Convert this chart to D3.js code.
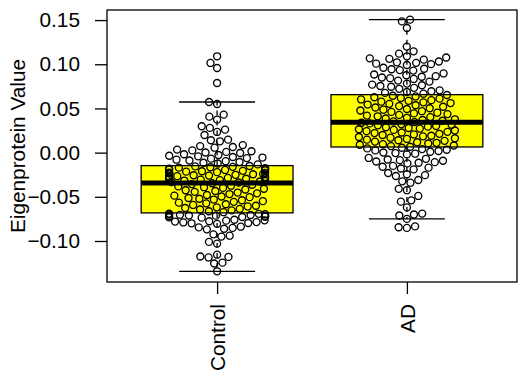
<!DOCTYPE html>
<html>
<head>
<meta charset="utf-8">
<script src="https://cdn.jsdelivr.net/npm/d3@7"></script>
<style>
  html, body { margin: 0; padding: 0; background: #fff; }
  svg { display: block; }
  text { font-family: "Liberation Sans", Arial, Helvetica, sans-serif; fill: #000; }
</style>
</head>
<body>
<svg id="chart" width="523" height="381"></svg>
<script>
// ---------- data ----------
const categories = ["Control", "AD"];
const yTicks = [-0.10, -0.05, 0.00, 0.05, 0.10, 0.15];
const yLabel = "Eigenprotein Value";

// box statistics
const whiskerLow  = [-0.1343, -0.0750];
const quartile1   = [-0.0682,  0.0064];
const medians     = [-0.0343,  0.0343];
const quartile3   = [-0.0147,  0.0656];
const whiskerHigh = [ 0.0573,  0.1505];

// individual samples (estimated from the swarm)
const controlValues = [
  0.1090, 0.1015, 0.0958, 0.0788, 0.0573, 0.0550, 0.0430, 0.0407, 0.0373, 0.0298,
  0.0280, 0.0260, 0.0234, 0.0200,
  0.0147, 0.0140, 0.0128,
  0.0085, 0.0074, 0.0064, 0.0056,
  0.0034, 0.0025, 0.0016, 0.0008, 0.0002, -0.0004,
  -0.0018, -0.0027, -0.0035, -0.0042, -0.0049, -0.0056, -0.0062, -0.0068,
  -0.0080, -0.0089, -0.0097, -0.0106, -0.0114, -0.0123, -0.0133,
  -0.0151, -0.0156, -0.0161, -0.0166, -0.0170, -0.0176, -0.0181, -0.0185, -0.0191, -0.0196,
  -0.0200, -0.0206, -0.0211, -0.0215, -0.0221, -0.0226, -0.0230, -0.0236, -0.0241, -0.0245,
  -0.0251, -0.0256, -0.0260, -0.0266, -0.0271, -0.0275, -0.0281, -0.0286, -0.0290, -0.0296,
  -0.0301, -0.0305, -0.0311, -0.0316, -0.0321, -0.0327, -0.0332, -0.0338,
  -0.0347, -0.0356, -0.0364, -0.0374, -0.0382, -0.0391, -0.0399, -0.0409, -0.0417, -0.0426,
  -0.0434, -0.0444, -0.0452, -0.0461, -0.0469, -0.0479, -0.0487, -0.0496, -0.0504, -0.0514,
  -0.0522, -0.0531, -0.0539, -0.0549, -0.0557, -0.0566, -0.0574, -0.0584, -0.0592, -0.0601,
  -0.0609, -0.0619, -0.0627, -0.0636, -0.0644, -0.0654, -0.0663, -0.0674,
  -0.0690, -0.0693, -0.0697, -0.0700, -0.0704, -0.0706, -0.0711, -0.0713, -0.0718, -0.0720,
  -0.0725, -0.0728, -0.0733, -0.0736,
  -0.0760, -0.0766, -0.0770, -0.0776, -0.0780, -0.0786, -0.0790, -0.0796, -0.0800, -0.0806,
  -0.0838, -0.0846, -0.0852, -0.0861, -0.0868,
  -0.0925, -0.0940, -0.0950,
  -0.1010, -0.1030,
  -0.1155, -0.1175, -0.1180, -0.1186, -0.1245, -0.1255, -0.1343
];

const adValues = [
  0.1505, 0.1485, 0.1410, 0.1200, 0.1146, 0.1120,
  0.1090, 0.1076, 0.1067, 0.1061, 0.1052,
  0.1031, 0.1022, 0.1016, 0.1007, 0.1001, 0.0992,
  0.0961, 0.0949, 0.0943, 0.0934, 0.0928,
  0.0896, 0.0884, 0.0876, 0.0865, 0.0859, 0.0850, 0.0843, 0.0834,
  0.0815, 0.0804,
  0.0781, 0.0769, 0.0763, 0.0754, 0.0745, 0.0733, 0.0722,
  0.0705, 0.0695, 0.0686, 0.0676, 0.0667,
  0.0652, 0.0644, 0.0636, 0.0627, 0.0619, 0.0611, 0.0602, 0.0594, 0.0586, 0.0577,
  0.0569, 0.0561, 0.0552, 0.0544, 0.0536, 0.0527, 0.0519, 0.0511, 0.0502, 0.0494,
  0.0486, 0.0477, 0.0469, 0.0461, 0.0452, 0.0444, 0.0436, 0.0427, 0.0419, 0.0411,
  0.0402, 0.0394, 0.0386, 0.0377, 0.0369, 0.0361, 0.0353, 0.0346,
  0.0338, 0.0331, 0.0323, 0.0316, 0.0309, 0.0301, 0.0294, 0.0287, 0.0279, 0.0272,
  0.0265, 0.0257, 0.0250, 0.0243, 0.0235, 0.0228, 0.0221, 0.0213, 0.0206, 0.0199,
  0.0191, 0.0184, 0.0177, 0.0169, 0.0162, 0.0155, 0.0147, 0.0140, 0.0133, 0.0125,
  0.0118, 0.0111, 0.0103, 0.0096, 0.0089, 0.0081, 0.0074, 0.0067,
  0.0055, 0.0048, 0.0040, 0.0032, 0.0025, 0.0018, 0.0010, 0.0002, -0.0005, -0.0012, -0.0020,
  -0.0060, -0.0070, -0.0078, -0.0085, -0.0092, -0.0100, -0.0108, -0.0115, -0.0122,
  -0.0150, -0.0160, -0.0170, -0.0180, -0.0190,
  -0.0230, -0.0245, -0.0255, -0.0265,
  -0.0310, -0.0325, -0.0340,
  -0.0410, -0.0425,
  -0.0490, -0.0540, -0.0555, -0.0620,
  -0.0690, -0.0700, -0.0712, -0.0750,
  -0.0835, -0.0845, -0.0852
];
const groupValues = [controlValues, adValues];

// ---------- layout ----------
const svg = d3.select("#chart");
const plot = { left: 107, right: 517, top: 10, bottom: 282 };
const FONT = 20.8;

const x = d3.scaleLinear().domain([0.42, 2.58]).range([plot.left, plot.right]);
const y = d3.scaleLinear().domain([-0.1464, 0.1614]).range([plot.bottom, plot.top]);

const boxHalf = 0.4, capHalf = 0.2;

// boxes
const g = svg.append("g");
categories.forEach((c, i) => {
  const cx = i + 1;
  g.append("line").attr("x1", x(cx)).attr("x2", x(cx))
    .attr("y1", y(quartile3[i])).attr("y2", y(whiskerHigh[i]))
    .attr("stroke", "#000").attr("stroke-width", 1.3).attr("stroke-dasharray", "5,5");
  g.append("line").attr("x1", x(cx)).attr("x2", x(cx))
    .attr("y1", y(quartile1[i])).attr("y2", y(whiskerLow[i]))
    .attr("stroke", "#000").attr("stroke-width", 1.3).attr("stroke-dasharray", "5,5");
  [whiskerHigh[i], whiskerLow[i]].forEach(v => {
    g.append("line").attr("x1", x(cx - capHalf)).attr("x2", x(cx + capHalf))
      .attr("y1", y(v)).attr("y2", y(v)).attr("stroke", "#000").attr("stroke-width", 1.3);
  });
  g.append("rect").attr("x", x(cx - boxHalf)).attr("width", x(cx + boxHalf) - x(cx - boxHalf))
    .attr("y", y(quartile3[i])).attr("height", y(quartile1[i]) - y(quartile3[i]))
    .attr("fill", "#FFFF00").attr("stroke", "#000").attr("stroke-width", 1.3);
  g.append("line").attr("x1", x(cx - boxHalf)).attr("x2", x(cx + boxHalf))
    .attr("y1", y(medians[i])).attr("y2", y(medians[i]))
    .attr("stroke", "#000").attr("stroke-width", 5);
});

// beeswarm (swarm placement, ascending priority, gutter corral)
const D = 8.3;
const corral = 48;
function swarm(values) {
  const pts = values.map(v => ({ v, py: y(v) })).sort((a, b) => a.v - b.v);
  const placed = [];
  pts.forEach(p => {
    const near = placed.filter(q => Math.abs(q.py - p.py) < D);
    const cands = [0];
    near.forEach(q => {
      const off = Math.sqrt(D * D - (q.py - p.py) ** 2);
      cands.push(q.dx + off, q.dx - off);
    });
    cands.sort((a, b) => Math.abs(a) - Math.abs(b) || a - b);
    let chosen = 0;
    for (const c of cands) {
      if (near.every(q => (c - q.dx) ** 2 + (q.py - p.py) ** 2 >= D * D - 0.01)) { chosen = c; break; }
    }
    p.dx = chosen;
    placed.push(p);
  });
  pts.forEach(p => { p.dx = Math.max(-corral, Math.min(corral, p.dx)); });
  return pts;
}

categories.forEach((c, i) => {
  const pts = swarm(groupValues[i]);
  svg.append("g").selectAll("circle").data(pts).join("circle")
    .attr("cx", d => x(i + 1) + d.dx)
    .attr("cy", d => d.py)
    .attr("r", 3.5)
    .attr("fill", "none")
    .attr("stroke", "#000")
    .attr("stroke-width", 1.35);
});

// frame
svg.append("rect").attr("x", plot.left).attr("y", plot.top)
  .attr("width", plot.right - plot.left).attr("height", plot.bottom - plot.top)
  .attr("fill", "none").attr("stroke", "#000").attr("stroke-width", 1.3);

// y axis
const yAxis = svg.append("g").attr("transform", `translate(${plot.left},0)`)
  .call(d3.axisLeft(y).tickValues(yTicks).tickFormat(d3.format(".2f")).tickSize(12).tickPadding(15));
yAxis.select(".domain").remove();
yAxis.selectAll(".tick line").attr("stroke", "#000").attr("stroke-width", 1.3);
yAxis.selectAll(".tick text").attr("font-size", FONT).attr("font-family", null).attr("fill", "#000");

// x axis
const xAxis = svg.append("g").attr("transform", `translate(0,${plot.bottom})`)
  .call(d3.axisBottom(x).tickValues([1, 2]).tickFormat((d, i) => categories[i]).tickSize(12));
xAxis.select(".domain").remove();
xAxis.selectAll(".tick line").attr("stroke", "#000").attr("stroke-width", 1.3);
xAxis.selectAll(".tick text")
  .attr("font-size", FONT).attr("font-family", null).attr("fill", "#000")
  .attr("transform", "translate(0,22) rotate(-90)")
  .attr("text-anchor", "end").attr("x", 0).attr("y", 0).attr("dy", "0.35em");

// y label
svg.append("text")
  .attr("transform", `translate(25,${(plot.top + plot.bottom) / 2}) rotate(-90)`)
  .attr("text-anchor", "middle").attr("font-size", FONT)
  .text(yLabel);
</script>
</body>
</html>
